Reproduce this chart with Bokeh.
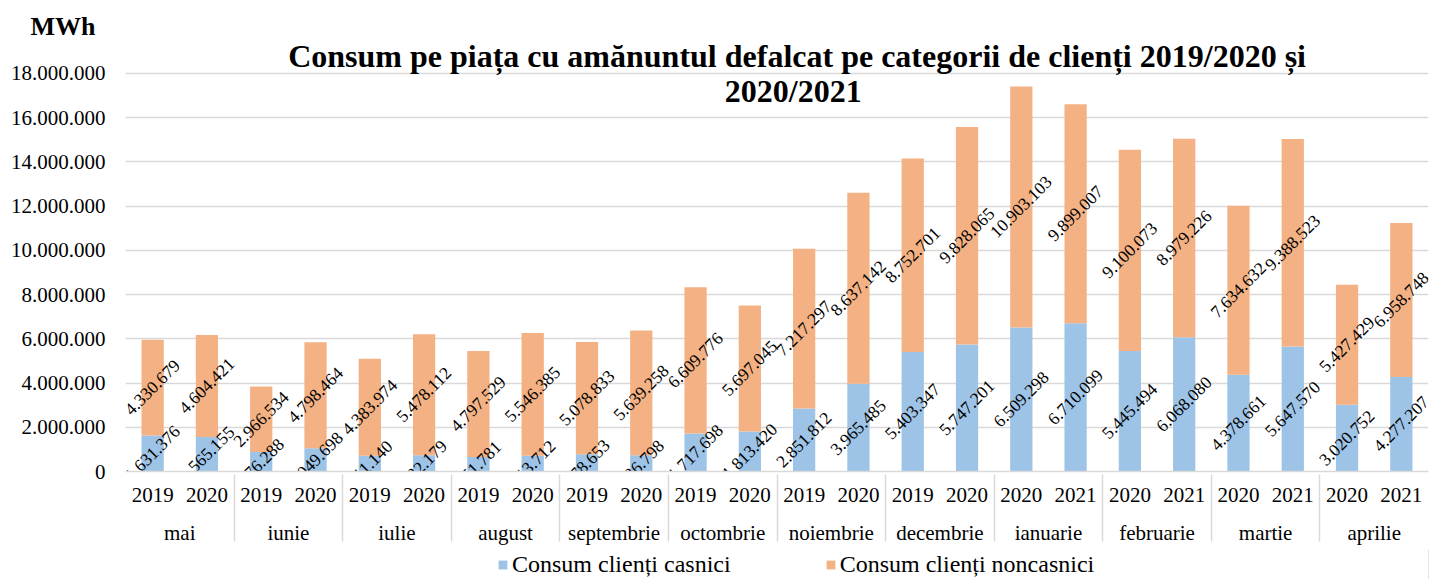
import math
from bokeh.plotting import figure
from bokeh.layouts import column
from bokeh.models import FactorRange, ColumnDataSource, FixedTicker, Legend, LegendItem, Label
from bokeh.core.properties import value
from bokeh.embed import file_html
from bokeh.resources import INLINE

months = ["mai", "iunie", "iulie", "august", "septembrie", "octombrie", "noiembrie",
          "decembrie", "ianuarie", "februarie", "martie", "aprilie"]
years = [["2019", "2020"]] * 8 + [["2020", "2021"]] * 4
casnici = [1631376, 1565155, 876288, 1049698, 711140, 732179, 651781, 713712,
           778653, 736798, 1717698, 1813420, 2851812, 3965485, 5403347, 5747201,
           6509298, 6710099, 5445494, 6068080, 4378661, 5647570, 3020752, 4277207]
noncasnici = [4330679, 4604421, 2966534, 4798464, 4383974, 5478112, 4797529, 5546385,
              5078833, 5639258, 6609776, 5697045, 7217297, 8637142, 8752701, 9828065,
              10903103, 9899007, 9100073, 8979226, 7634632, 9388523, 5427429, 6958748]
series_names = ["Consum clienți casnici", "Consum clienți noncasnici"]
y_ticks = [0, 2000000, 4000000, 6000000, 8000000, 10000000, 12000000, 14000000, 16000000, 18000000]
y_tick_labels = ["0", "2.000.000", "4.000.000", "6.000.000", "8.000.000", "10.000.000",
                 "12.000.000", "14.000.000", "16.000.000", "18.000.000"]
title_lines = ["Consum pe piața cu amănuntul defalcat pe categorii de clienți 2019/2020 și",
               "2020/2021"]
unit_label = "MWh"

BLUE = "#9DC3E6"
ORANGE = "#F4B183"
GRID = "#d9d9d9"
SERIF = "Liberation Serif"
W = 1432
TOP_H = 44
LEG_H = 30

factors = [(m, y) for m, ys in zip(months, years) for y in ys]


def fmt(v):
    return f"{v:,}".replace(",", ".")


def blank(fig):
    fig.xaxis.visible = False
    fig.yaxis.visible = False
    fig.grid.visible = False
    fig.outline_line_color = None
    fig.background_fill_color = "white"
    fig.border_fill_color = "white"


# ---- top strip: unit label (single tick label of a left axis) ----
p_top = figure(width=W, height=TOP_H, x_range=(0, len(factors)), y_range=(0, TOP_H),
               output_backend="svg", toolbar_location=None, x_axis_location=None,
               min_border_left=125, min_border_right=4, min_border_top=0, min_border_bottom=0)
blank(p_top)
p_top.yaxis.visible = True
p_top.yaxis.ticker = FixedTicker(ticks=[10.6])
p_top.yaxis.major_label_overrides = {10.6: unit_label}
p_top.yaxis.axis_line_color = None
p_top.yaxis.major_tick_line_color = None
p_top.yaxis.minor_tick_line_color = None
p_top.yaxis.major_tick_out = 0
p_top.yaxis.major_label_standoff = 30
p_top.yaxis.major_label_text_font = SERIF
p_top.yaxis.major_label_text_font_style = "bold"
p_top.yaxis.major_label_text_font_size = "26px"
p_top.yaxis.major_label_text_color = "black"

# ---- main chart ----
src = ColumnDataSource(dict(x=factors, casnici=casnici, noncasnici=noncasnici))

p = figure(
    x_range=FactorRange(*factors, group_padding=0, factor_padding=0, range_padding=0),
    y_range=(0, 19311000),
    width=W, height=579 - TOP_H - LEG_H,
    output_backend="svg", toolbar_location=None,
    min_border_left=125, min_border_right=4, min_border_top=0, min_border_bottom=78,
)
p.background_fill_color = "white"
p.border_fill_color = "white"
p.outline_line_color = None

rs = p.vbar_stack(["casnici", "noncasnici"], x="x", width=0.41, source=src,
                  color=[BLUE, ORANGE], line_color=None)

lab_x = factors + factors
lab_y = [c / 2 for c in casnici] + [c + n / 2 for c, n in zip(casnici, noncasnici)]
lab_t = [fmt(v) for v in casnici] + [fmt(v) for v in noncasnici]
lsrc = ColumnDataSource(dict(x=lab_x, y=lab_y, t=lab_t))
p.text(x="x", y="y", text="t", source=lsrc, angle=math.pi / 4,
       text_align="center", text_baseline="middle",
       text_font=value(SERIF), text_font_size="17.5px", text_color="black")

p.yaxis.ticker = FixedTicker(ticks=y_ticks)
p.yaxis.major_label_overrides = {t: l for t, l in zip(y_ticks, y_tick_labels)}
p.yaxis.axis_line_color = None
p.yaxis.major_tick_line_color = None
p.yaxis.minor_tick_line_color = None
p.yaxis.major_tick_out = 0
p.yaxis.major_label_standoff = 20
p.yaxis.major_label_text_font = SERIF
p.yaxis.major_label_text_font_size = "21px"
p.yaxis.major_label_text_color = "black"
p.ygrid.grid_line_color = GRID
p.ygrid.grid_line_width = 1.5
p.xgrid.visible = False

xa = p.xaxis[0]
xa.axis_line_color = GRID
xa.axis_line_width = 1.5
xa.major_tick_line_color = None
xa.major_tick_out = 0
xa.major_label_standoff = 16
xa.major_label_text_font = SERIF
xa.major_label_text_font_size = "21px"
xa.major_label_text_color = "black"
xa.group_text_font = SERIF
xa.group_text_font_size = "21px"
xa.group_text_color = "black"
xa.group_text_font_style = "normal"
xa.separator_line_color = GRID
xa.separator_line_width = 1.5

p.add_layout(Label(x=12.37, y=18792000, text=title_lines[0], text_align="center",
                   text_baseline="middle", text_font=SERIF, text_font_style="bold",
                   text_font_size="32px", text_color="black"))
p.add_layout(Label(x=12.30, y=17220000, text=title_lines[1], text_align="center",
                   text_baseline="middle", text_font=SERIF, text_font_style="bold",
                   text_font_size="32px", text_color="black"))

# ---- legend strip (frame aligned with the chart frame) ----
p_leg = figure(width=W, height=LEG_H, x_range=(0, 1), y_range=(0, 1),
               output_backend="svg", toolbar_location=None,
               min_border_left=125, min_border_right=4, min_border_top=0, min_border_bottom=0)
blank(p_leg)
d0 = p_leg.vbar(x=[5], top=[1], width=0.5, color=BLUE, line_color=None)
d1 = p_leg.vbar(x=[5], top=[1], width=0.5, color=ORANGE, line_color=None)
legend = Legend(items=[LegendItem(label=series_names[0], renderers=[d0]),
                       LegendItem(label=series_names[1], renderers=[d1])],
                orientation="horizontal", location=(372, 1),
                label_text_font=SERIF, label_text_font_size="24px",
                label_text_color="black", glyph_width=11, glyph_height=11,
                label_standoff=4, spacing=94, padding=0, margin=0,
                border_line_color=None, background_fill_alpha=0)
p_leg.add_layout(legend, "center")

layout = column(p_top, p, p_leg, spacing=0)
open("out.html", "w").write(file_html(layout, INLINE))
